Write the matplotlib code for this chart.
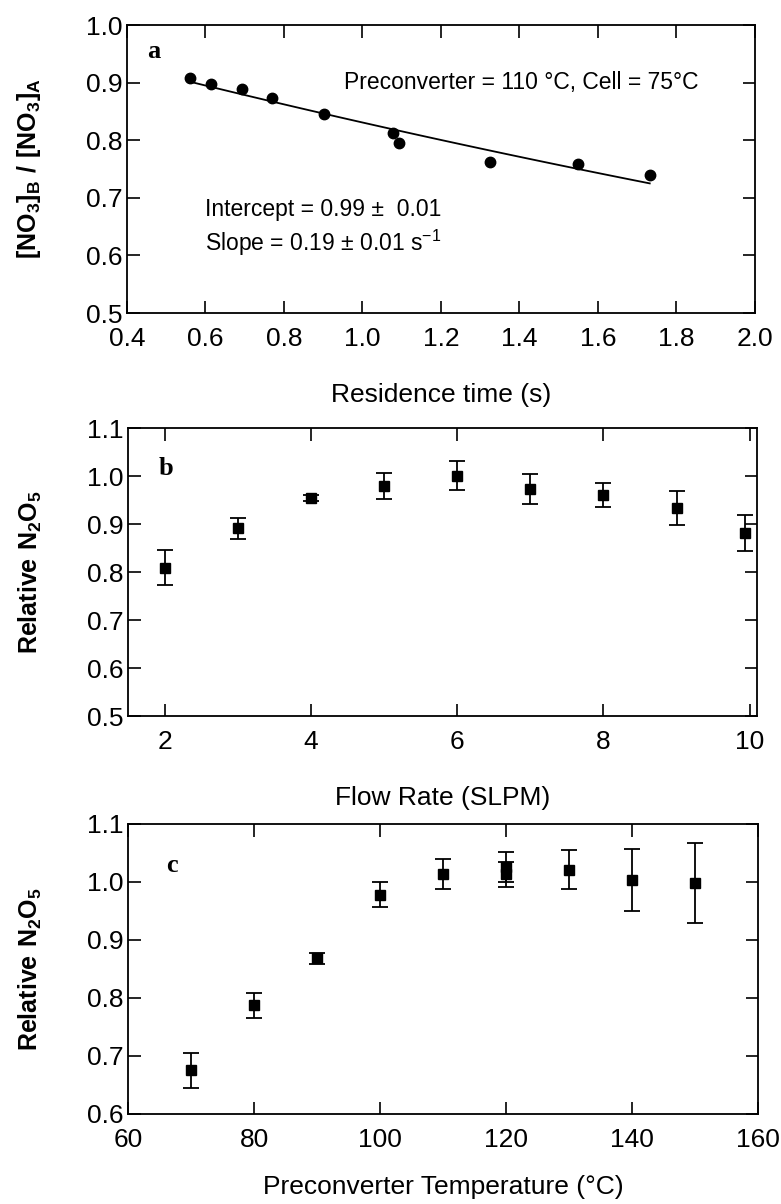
import numpy as np
import matplotlib
matplotlib.use('Agg')
import matplotlib.pyplot as plt
from matplotlib.ticker import MultipleLocator, FormatStrFormatter

plt.rcParams['font.family'] = ['Liberation Sans', 'DejaVu Sans']
plt.rcParams['mathtext.fontset'] = 'custom'
plt.rcParams['mathtext.rm'] = 'Liberation Sans'
plt.rcParams['mathtext.bf'] = 'Liberation Sans:bold'

# panel a: residence time test
res_time = [0.56, 0.613, 0.693, 0.769, 0.903, 1.078, 1.094, 1.326, 1.549, 1.732]
no3_ratio = [0.908, 0.897, 0.889, 0.873, 0.845, 0.813, 0.795, 0.763, 0.758, 0.740]

# panel b: flow rate test
flow_rate = [2, 3, 4, 5, 6, 7, 8, 9, 9.93]
flow_n2o5 = [0.809, 0.891, 0.954, 0.979, 1.001, 0.973, 0.960, 0.933, 0.881]
flow_err = [0.036, 0.022, 0.006, 0.027, 0.030, 0.032, 0.025, 0.035, 0.038]

# panel c: preconverter temperature test
pre_temp = [70, 80, 90, 100, 110, 120, 120, 130, 140, 150]
temp_n2o5 = [0.675, 0.787, 0.868, 0.978, 1.013, 1.025, 1.013, 1.021, 1.003, 0.998]
temp_err = [0.030, 0.022, 0.010, 0.022, 0.026, 0.026, 0.022, 0.034, 0.053, 0.069]

tick_fs = 19
label_fs = 19
ylab_fs = 18
panel_fs = 19
note_fs = 16.5

fig = plt.figure(figsize=(7.81, 12.04), dpi=100)
ax_a = fig.add_axes([0.1626, 0.740, 0.804, 0.2392])
ax_b = fig.add_axes([0.1639, 0.4053, 0.8054, 0.2392])
ax_c = fig.add_axes([0.1639, 0.0748, 0.8067, 0.2409])

for ax in (ax_a, ax_b, ax_c):
    ax.tick_params(direction='in', top=True, right=True, length=9, width=1.2,
                   labelsize=tick_fs)
    ax.tick_params(axis='x', pad=10)
    ax.tick_params(axis='y', pad=3)
    ax.yaxis.set_major_locator(MultipleLocator(0.1))
    ax.yaxis.set_major_formatter(FormatStrFormatter('%.1f'))
    for sp in ax.spines.values():
        sp.set_linewidth(1.3)

# a
ax_a.plot(res_time, no3_ratio, 'o', color='black', markersize=7.5)
# exponential fit of the data
k, lnA = np.polyfit(res_time, np.log(no3_ratio), 1)
tt = np.linspace(min(res_time), max(res_time), 100)
ax_a.plot(tt, np.exp(lnA) * np.exp(k * tt), color='black', lw=1.3)
ax_a.set_xlim(0.4, 2.0)
ax_a.set_ylim(0.5, 1.0)
ax_a.xaxis.set_major_locator(MultipleLocator(0.2))
ax_a.xaxis.set_major_formatter(FormatStrFormatter('%.1f'))
ax_a.set_xlabel('Residence time (s)', fontsize=label_fs, labelpad=23)
ax_a.set_ylabel(r'$\mathbf{[NO_3]_B\ /\ [NO_3]_A}$', fontsize=ylab_fs)
ax_a.yaxis.set_label_coords(-0.133, 0.5)
ax_a.text(0.032, 0.908, 'a', transform=ax_a.transAxes, fontsize=panel_fs,
          fontweight='bold', family='Liberation Serif', va='center')
ax_a.text(0.345, 0.80, 'Preconverter = 110 \u00b0C, Cell = 75\u00b0C',
          transform=ax_a.transAxes, fontsize=note_fs, va='center')
ax_a.text(0.125, 0.36, 'Intercept = 0.99 \u00b1  0.01', transform=ax_a.transAxes,
          fontsize=note_fs, va='center')
ax_a.text(0.125, 0.245, 'Slope = 0.19 \u00b1 0.01 s$^{-1}$', transform=ax_a.transAxes,
          fontsize=note_fs, va='center')

# b
ax_b.errorbar(flow_rate, flow_n2o5, yerr=flow_err, fmt='s', color='black',
              markersize=7.5, capsize=5.5, elinewidth=1.3, capthick=1.3)
ax_b.set_xlim(1.5, 10.1)
ax_b.set_ylim(0.5, 1.1)
ax_b.xaxis.set_major_locator(MultipleLocator(2))
ax_b.set_xlabel('Flow Rate (SLPM)', fontsize=label_fs, labelpad=23)
ax_b.set_ylabel(r'$\mathbf{Relative\ N_2O_5}$', fontsize=ylab_fs)
ax_b.yaxis.set_label_coords(-0.134, 0.5)
ax_b.text(0.049, 0.861, 'b', transform=ax_b.transAxes, fontsize=panel_fs,
          fontweight='bold', family='Liberation Serif', va='center')

# c
ax_c.errorbar(pre_temp, temp_n2o5, yerr=temp_err, fmt='s', color='black',
              markersize=7.5, capsize=5.5, elinewidth=1.3, capthick=1.3)
ax_c.set_xlim(60, 160)
ax_c.set_ylim(0.6, 1.1)
ax_c.xaxis.set_major_locator(MultipleLocator(20))
ax_c.set_xlabel('Preconverter Temperature (\u00b0C)', fontsize=label_fs, labelpad=17)
ax_c.set_ylabel(r'$\mathbf{Relative\ N_2O_5}$', fontsize=ylab_fs)
ax_c.yaxis.set_label_coords(-0.134, 0.5)
ax_c.text(0.06, 0.855, 'c', transform=ax_c.transAxes, fontsize=panel_fs,
          fontweight='bold', family='Liberation Serif', va='center')

fig.savefig('out.png', dpi=100)
